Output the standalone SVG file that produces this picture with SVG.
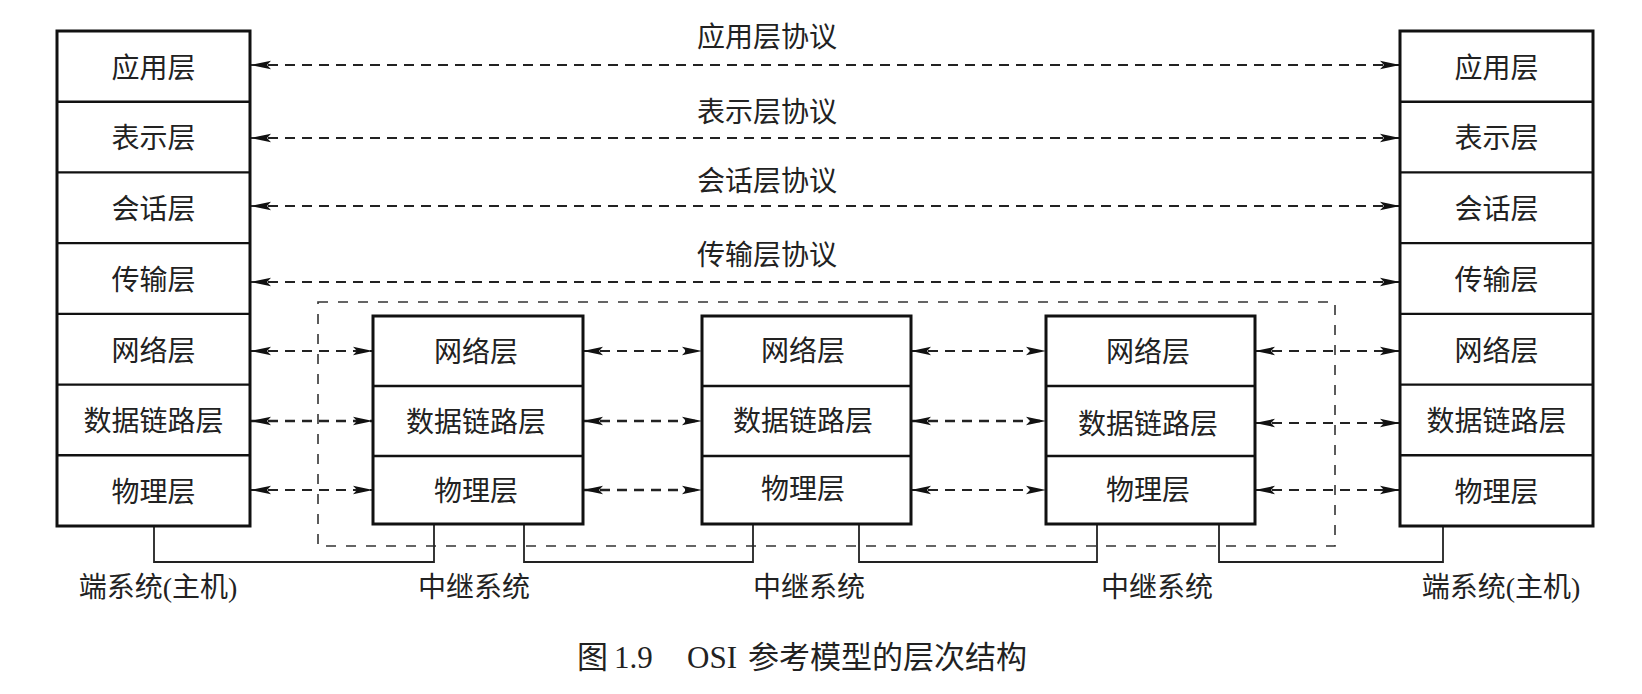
<svg xmlns="http://www.w3.org/2000/svg" width="1642" height="694" viewBox="0 0 1642 694">
  <style>
    .box { fill: #fff; stroke: #111; stroke-width: 3; }
    .div { stroke: #111; stroke-width: 2.4; }
    .lbl { font-family: "Liberation Serif", "Noto Sans CJK SC", serif; font-size: 28px; fill: #222; text-anchor: middle; }
    .cap { font-family: "Liberation Serif", "Noto Sans CJK SC", serif; font-size: 31px; fill: #222; }
    .peer { fill: none; stroke: #222; stroke-width: 1.8; stroke-dasharray: 10 7; marker-start: url(#arr); marker-end: url(#arr); }
    .peer.bold { stroke-width: 2.6; }
    .group { fill: none; stroke: #333; stroke-width: 1.6; stroke-dasharray: 10 10; }
    .wire { fill: none; stroke: #222; stroke-width: 1.8; }
  </style>
  <defs>
    <marker id="arr" viewBox="0 0 20 10" refX="20" refY="5" markerWidth="20" markerHeight="10" markerUnits="userSpaceOnUse" orient="auto-start-reverse">
      <path d="M0,0.8 L20,5 L0,9.2 L4,5 Z" fill="#111"/>
    </marker>
  </defs>

  <rect width="1642" height="694" fill="#fff"/>

  <!-- relay-system boundary -->
  <rect class="group" x="318" y="302" width="1017" height="244"/>

  <!-- connectors: peer protocols and physical links -->
  <g id="connectors">
    <path class="peer" d="M251,65 H1400"/>
    <path class="peer" d="M251,138 H1400"/>
    <path class="peer" d="M251,206 H1400"/>
    <path class="peer" d="M251,282 H1400"/>

    <path class="peer" d="M251,351 H373"/>
    <path class="peer bold" d="M251,421 H373"/>
    <path class="peer" d="M251,490 H373"/>

    <path class="peer" d="M583,351 H702"/>
    <path class="peer bold" d="M583,421 H702"/>
    <path class="peer bold" d="M583,490 H702"/>

    <path class="peer" d="M911,351 H1046"/>
    <path class="peer bold" d="M911,421 H1046"/>
    <path class="peer" d="M911,490 H1046"/>

    <path class="peer" d="M1255,351 H1400"/>
    <path class="peer" d="M1255,423 H1400"/>
    <path class="peer" d="M1255,490 H1400"/>

    <path class="wire" d="M154,526 V562 H434 V524"/>
    <path class="wire" d="M524,524 V562 H753 V524"/>
    <path class="wire" d="M859,524 V562 H1097 V524"/>
    <path class="wire" d="M1219,524 V562 H1443 V526"/>
  </g>

  <!-- protocol labels -->
  <g id="protocol-labels">
    <text class="lbl" x="767" y="47">应用层协议</text>
    <text class="lbl" x="767" y="122">表示层协议</text>
    <text class="lbl" x="767" y="191">会话层协议</text>
    <text class="lbl" x="767" y="265">传输层协议</text>
  </g>

  <!-- left end system -->
  <g id="host-left">
    <rect class="box" x="57" y="31" width="193" height="495"/>
    <line class="div" x1="57" y1="101.7" x2="250" y2="101.7"/>
    <line class="div" x1="57" y1="172.4" x2="250" y2="172.4"/>
    <line class="div" x1="57" y1="243.1" x2="250" y2="243.1"/>
    <line class="div" x1="57" y1="313.9" x2="250" y2="313.9"/>
    <line class="div" x1="57" y1="384.6" x2="250" y2="384.6"/>
    <line class="div" x1="57" y1="455.3" x2="250" y2="455.3"/>
    <text class="lbl" x="153.5" y="78">应用层</text>
    <text class="lbl" x="153.5" y="148">表示层</text>
    <text class="lbl" x="153.5" y="219">会话层</text>
    <text class="lbl" x="153.5" y="290">传输层</text>
    <text class="lbl" x="153.5" y="361">网络层</text>
    <text class="lbl" x="153.5" y="431">数据链路层</text>
    <text class="lbl" x="153.5" y="502">物理层</text>
    <text class="lbl" x="158" y="597">端系统(主机)</text>
  </g>

  <!-- relay system 1 -->
  <g id="relay-1">
    <rect class="box" x="373" y="316" width="210" height="208"/>
    <line class="div" x1="373" y1="386" x2="583" y2="386"/>
    <line class="div" x1="373" y1="456" x2="583" y2="456"/>
    <text class="lbl" x="476" y="362">网络层</text>
    <text class="lbl" x="476" y="432">数据链路层</text>
    <text class="lbl" x="476" y="501">物理层</text>
    <text class="lbl" x="474" y="597">中继系统</text>
  </g>

  <!-- relay system 2 -->
  <g id="relay-2">
    <rect class="box" x="702" y="316" width="209" height="208"/>
    <line class="div" x1="702" y1="386" x2="911" y2="386"/>
    <line class="div" x1="702" y1="456" x2="911" y2="456"/>
    <text class="lbl" x="803" y="361">网络层</text>
    <text class="lbl" x="803" y="431">数据链路层</text>
    <text class="lbl" x="803" y="499">物理层</text>
    <text class="lbl" x="809" y="597">中继系统</text>
  </g>

  <!-- relay system 3 -->
  <g id="relay-3">
    <rect class="box" x="1046" y="316" width="209" height="208"/>
    <line class="div" x1="1046" y1="386" x2="1255" y2="386"/>
    <line class="div" x1="1046" y1="456" x2="1255" y2="456"/>
    <text class="lbl" x="1148" y="362">网络层</text>
    <text class="lbl" x="1148" y="434">数据链路层</text>
    <text class="lbl" x="1148" y="500">物理层</text>
    <text class="lbl" x="1157" y="597">中继系统</text>
  </g>

  <!-- right end system -->
  <g id="host-right">
    <rect class="box" x="1400" y="31" width="193" height="495"/>
    <line class="div" x1="1400" y1="101.7" x2="1593" y2="101.7"/>
    <line class="div" x1="1400" y1="172.4" x2="1593" y2="172.4"/>
    <line class="div" x1="1400" y1="243.1" x2="1593" y2="243.1"/>
    <line class="div" x1="1400" y1="313.9" x2="1593" y2="313.9"/>
    <line class="div" x1="1400" y1="384.6" x2="1593" y2="384.6"/>
    <line class="div" x1="1400" y1="455.3" x2="1593" y2="455.3"/>
    <text class="lbl" x="1496.5" y="78">应用层</text>
    <text class="lbl" x="1496.5" y="148">表示层</text>
    <text class="lbl" x="1496.5" y="219">会话层</text>
    <text class="lbl" x="1496.5" y="290">传输层</text>
    <text class="lbl" x="1496.5" y="361">网络层</text>
    <text class="lbl" x="1496.5" y="431">数据链路层</text>
    <text class="lbl" x="1496.5" y="502">物理层</text>
    <text class="lbl" x="1501" y="597">端系统(主机)</text>
  </g>

  <!-- figure caption -->
  <text class="cap" y="668"><tspan x="577">图</tspan><tspan x="614">1.9</tspan><tspan x="687">OSI</tspan><tspan x="748">参考模型的层次结构</tspan></text>
</svg>
